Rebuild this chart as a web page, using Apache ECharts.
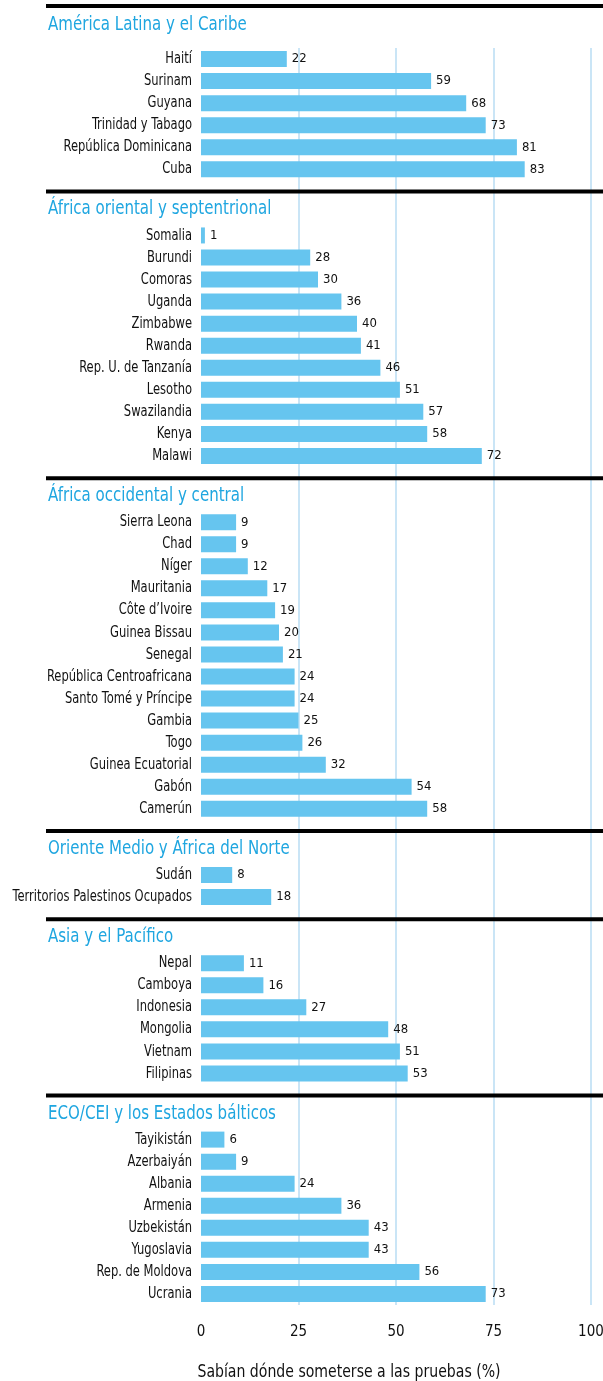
<!DOCTYPE html>
<html>
<head>
<meta charset="utf-8">
<script src="https://cdn.jsdelivr.net/npm/echarts@6/dist/echarts.min.js"></script>
<style>
html, body { margin: 0; padding: 0; background: #fff; }
#main { width: 603px; height: 1381px; }
</style>
</head>
<body>
<div id="main"></div>
<script>
var FONT = "'DejaVu Sans Condensed','DejaVu Sans',sans-serif";

// datos por región
var latamName = 'América Latina y el Caribe';
var latamCats = ['Haití', 'Surinam', 'Guyana', 'Trinidad y Tabago', 'República Dominicana', 'Cuba'];
var latamVals = [22, 59, 68, 73, 81, 83];

var orientalName = 'África oriental y septentrional';
var orientalCats = ['Somalia', 'Burundi', 'Comoras', 'Uganda', 'Zimbabwe', 'Rwanda', 'Rep. U. de Tanzanía', 'Lesotho', 'Swazilandia', 'Kenya', 'Malawi'];
var orientalVals = [1, 28, 30, 36, 40, 41, 46, 51, 57, 58, 72];

var occidentalName = 'África occidental y central';
var occidentalCats = ['Sierra Leona', 'Chad', 'Níger', 'Mauritania', 'Côte d’Ivoire', 'Guinea Bissau', 'Senegal', 'República Centroafricana', 'Santo Tomé y Príncipe', 'Gambia', 'Togo', 'Guinea Ecuatorial', 'Gabón', 'Camerún'];
var occidentalVals = [9, 9, 12, 17, 19, 20, 21, 24, 24, 25, 26, 32, 54, 58];

var orienteName = 'Oriente Medio y África del Norte';
var orienteCats = ['Sudán', 'Territorios Palestinos Ocupados'];
var orienteVals = [8, 18];

var asiaName = 'Asia y el Pacífico';
var asiaCats = ['Nepal', 'Camboya', 'Indonesia', 'Mongolia', 'Vietnam', 'Filipinas'];
var asiaVals = [11, 16, 27, 48, 51, 53];

var ecoName = 'ECO/CEI y los Estados bálticos';
var ecoCats = ['Tayikistán', 'Azerbaiyán', 'Albania', 'Armenia', 'Uzbekistán', 'Yugoslavia', 'Rep. de Moldova', 'Ucrania'];
var ecoVals = [6, 9, 24, 36, 43, 43, 56, 73];

var xTicks = [0, 25, 50, 75, 100];
var xTitle = 'Sabían dónde someterse a las pruebas (%)';

var sections = [
    {name: latamName, cats: latamCats, vals: latamVals},
    {name: orientalName, cats: orientalCats, vals: orientalVals},
    {name: occidentalName, cats: occidentalCats, vals: occidentalVals},
    {name: orienteName, cats: orienteCats, vals: orienteVals},
    {name: asiaName, cats: asiaCats, vals: asiaVals},
    {name: ecoName, cats: ecoCats, vals: ecoVals}
];

// una sola columna de categorías, con dos huecos entre regiones
var cats = [], vals = [], firstIdx = [];
for (var k = 0; k < sections.length; k++) {
    if (k > 0) {
        cats.push('', '');
        vals.push('-', '-');
    }
    firstIdx.push(cats.length);
    for (var i = 0; i < sections[k].cats.length; i++) {
        cats.push(sections[k].cats[i]);
        vals.push(sections[k].vals[i]);
    }
}

var myChart = echarts.init(document.getElementById('main'));
var option = {
    animation: false,
    grid: {left: 201, right: 12, top: 48, bottom: 76, containLabel: false, outerBoundsMode: 'none'},
    xAxis: {
        type: 'value',
        min: xTicks[0],
        max: xTicks[xTicks.length - 1],
        interval: 25,
        axisLine: {show: false},
        axisTick: {show: false},
        axisLabel: {margin: 20, fontSize: 15, color: '#111', fontFamily: FONT},
        splitLine: {show: true, showMinLine: false, lineStyle: {color: '#b9ddf3', width: 1.5}}
    },
    yAxis: {
        type: 'category',
        inverse: true,
        data: cats,
        axisLine: {show: false},
        axisTick: {show: false},
        axisLabel: {show: false}
    },
    series: [{
        type: 'bar',
        data: vals,
        barWidth: 16,
        itemStyle: {color: '#66c5ef'},
        label: {
            show: true,
            position: 'right',
            distance: 5,
            fontSize: 13,
            color: '#111',
            fontFamily: FONT
        },
        z: 3
    }]
};
myChart.setOption(option);

// etiquetas de país (condensadas), separadores y títulos de región
var graphics = [];
for (var c = 0; c < cats.length; c++) {
    if (!cats[c]) continue;
    graphics.push({
        type: 'text',
        x: 192,
        y: myChart.convertToPixel({yAxisIndex: 0}, c),
        scaleX: 0.8,
        style: {
            text: cats[c],
            fontSize: 16,
            fontFamily: FONT,
            fill: '#111',
            align: 'right',
            verticalAlign: 'middle'
        }
    });
}
for (var k = 0; k < sections.length; k++) {
    var y = myChart.convertToPixel({yAxisIndex: 0}, firstIdx[k]);
    var lineY = k == 0 ? y - 53 : y - 44;
    var titleY = k == 0 ? y - 34 : y - 26;
    graphics.push({
        type: 'rect',
        shape: {x: 46, y: lineY - 2, width: 557, height: 4},
        style: {fill: '#000'},
        z: 100
    });
    graphics.push({
        type: 'text',
        x: 48,
        y: titleY,
        scaleX: 0.88,
        style: {
            text: sections[k].name,
            fontSize: 19,
            fontFamily: FONT,
            fill: '#1fa6e0',
            verticalAlign: 'middle'
        },
        z: 100
    });
}
graphics.push({
    type: 'text',
    x: 349,
    y: 1373,
    scaleX: 0.92,
    style: {
        text: xTitle,
        fontSize: 17,
        fontFamily: FONT,
        fill: '#111',
        align: 'center',
        verticalAlign: 'middle'
    }
});
myChart.setOption({graphic: graphics});
</script>
</body>
</html>
